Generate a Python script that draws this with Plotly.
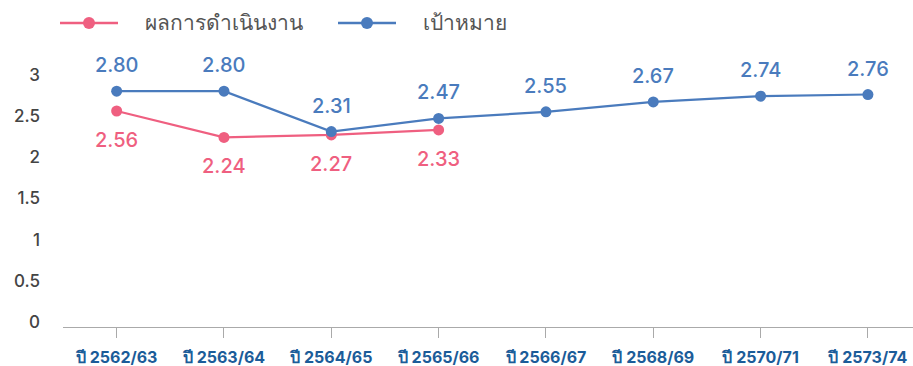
import plotly.graph_objects as go

categories = ["ปี 2562/63", "ปี 2563/64", "ปี 2564/65", "ปี 2565/66",
              "ปี 2566/67", "ปี 2568/69", "ปี 2570/71", "ปี 2573/74"]
actual = [2.56, 2.24, 2.27, 2.33]
target = [2.80, 2.80, 2.31, 2.47, 2.55, 2.67, 2.74, 2.76]
y_ticks = [0, 0.5, 1, 1.5, 2, 2.5, 3]
series_names = ["ผลการดำเนินงาน", "เป้าหมาย"]

RED = "#ef5f80"
BLUE = "#4a7bbd"
FONT = "Inter, Noto Sans, DejaVu Sans, sans-serif"

fig = go.Figure()
fig.add_trace(go.Scatter(
    x=categories[:len(actual)], y=actual, name=series_names[0],
    mode="lines+markers", line=dict(color=RED, width=2.2),
    marker=dict(size=11, color=RED), showlegend=False))
fig.add_trace(go.Scatter(
    x=categories, y=target, name=series_names[1],
    mode="lines+markers", line=dict(color=BLUE, width=2.2),
    marker=dict(size=11, color=BLUE), showlegend=False))

annotations = []
for c, v in zip(categories, target):
    annotations.append(dict(x=c, y=v, text=f"{v:.2f}", showarrow=False,
                            yshift=26, font=dict(size=20, color=BLUE, family=FONT, weight=500)))
for c, v in zip(categories, actual):
    annotations.append(dict(x=c, y=v, text=f"{v:.2f}", showarrow=False,
                            yshift=-29, font=dict(size=20, color=RED, family=FONT, weight=500)))

# Hand-drawn legend across the top (pixel positions converted to paper fractions)
W, H = 913, 366
L, R, T, B = 63, 0, 50, 39
pw, ph = W - L - R, H - T - B


def px(x):
    return (x - L) / pw


def py(y):
    return (H - B - y) / ph


shapes = []
legend_items = [(60, 118, 89, 143, RED, series_names[0]),
                (338, 396, 367, 421, BLUE, series_names[1])]
ly = 23
for x0, x1, xm, xt, col, name in legend_items:
    shapes.append(dict(type="line", xref="paper", yref="paper",
                       x0=px(x0), x1=px(x1), y0=py(ly), y1=py(ly),
                       line=dict(color=col, width=2.5)))
    shapes.append(dict(type="circle", xref="paper", yref="paper",
                       x0=px(xm - 6), x1=px(xm + 6), y0=py(ly + 6), y1=py(ly - 6),
                       fillcolor=col, line=dict(color=col, width=0)))
    annotations.append(dict(xref="paper", yref="paper", x=px(xt), y=py(ly),
                            xanchor="left", yanchor="middle", text=name, showarrow=False,
                            font=dict(size=21, color="#555555", family=FONT)))

fig.update_layout(
    width=W, height=H,
    margin=dict(l=L, r=R, t=T, b=B),
    plot_bgcolor="white", paper_bgcolor="white",
    font=dict(family=FONT),
    showlegend=False,
    xaxis=dict(type="category", range=[-0.5, 7.42], showgrid=False,
               showline=True, linecolor="#aaaaaa", linewidth=1,
               ticks="outside", ticklen=10, tickcolor="#aaaaaa",
               ticklabelstandoff=6,
               tickfont=dict(size=16, color="#1b5c99", family=FONT, weight=700),
               tickson="labels"),
    yaxis=dict(range=[-0.06, 3.3], tickvals=y_ticks,
               ticktext=["0", "0.5", "1", "1.5", "2", "2.5", "3"],
               showgrid=False, zeroline=False, showline=False,
               ticks="", ticklabelstandoff=22,
               tickfont=dict(size=17, color="#444444", family=FONT, weight=500)),
    annotations=annotations,
    shapes=shapes,
)

fig.write_html("out.html")
